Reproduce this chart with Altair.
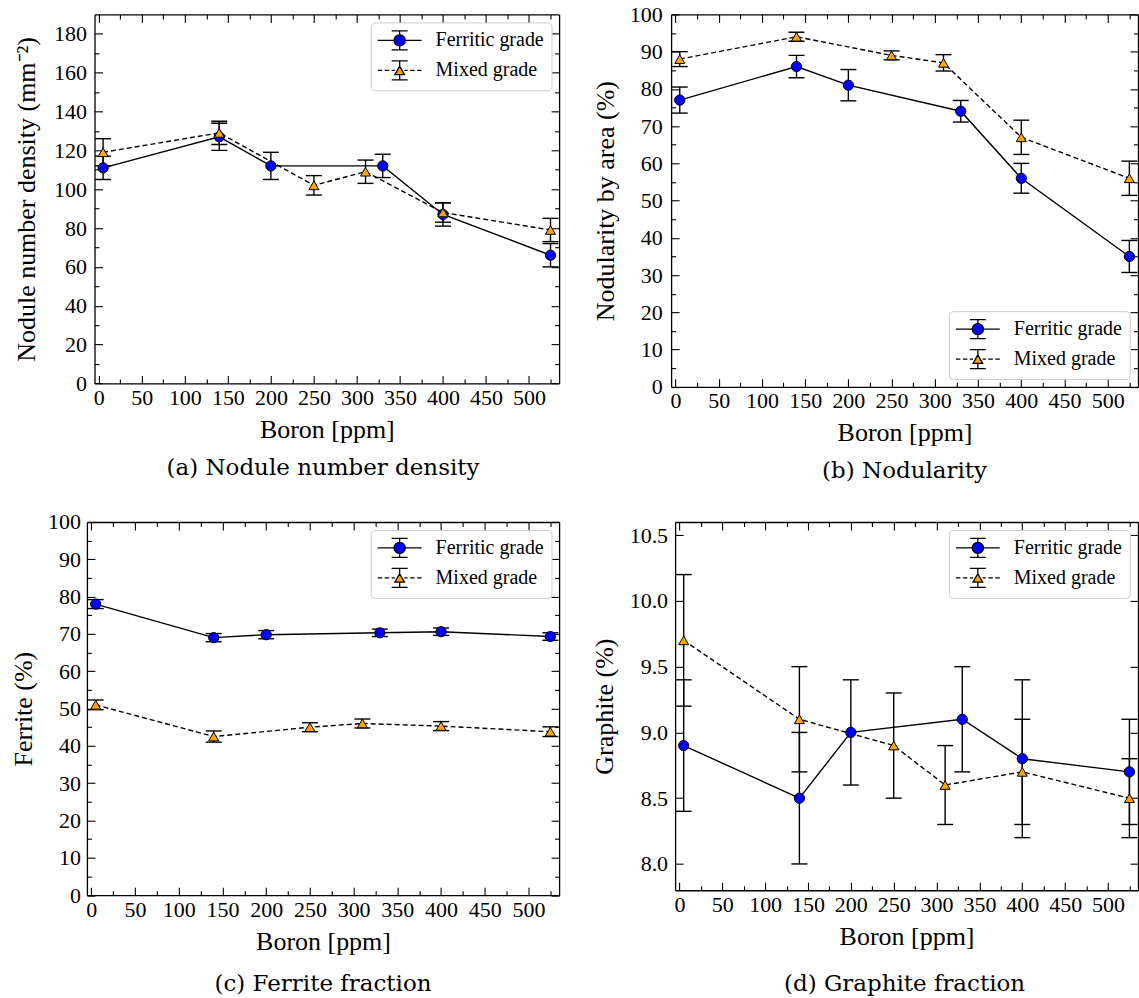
import altair as alt
import pandas as pd

# ---------------- data ----------------
series_names = ["Ferritic grade", "Mixed grade"]
boron_ferritic = [5, 140, 200, 330, 400, 525]
boron_mixed = [5, 140, 250, 310, 400, 525]

nodule_ferritic = [111, 127, 112, 112, 87, 66]
nodule_ferritic_err = [6, 7, 7, 6, 6, 6]
nodule_mixed = [119, 129, 102, 109, 88, 79]
nodule_mixed_err = [7, 6, 5, 6, 5, 6]

nodularity_ferritic = [77, 86, 81, 74, 56, 35]
nodularity_ferritic_err = [3.5, 3, 4.2, 2.9, 4, 4.3]
nodularity_mixed = [88, 94, 89, 87, 67, 56]
nodularity_mixed_err = [2, 1.2, 1.2, 2.2, 4.6, 4.6]

ferrite_ferritic = [78, 69, 69.8, 70.3, 70.6, 69.3]
ferrite_ferritic_err = [1.2, 1.1, 1.1, 1.0, 1.0, 1.0]
ferrite_mixed = [51, 42.5, 45, 46, 45.3, 43.8]
ferrite_mixed_err = [1.3, 1.5, 1.2, 1.2, 1.2, 1.3]

graphite_ferritic = [8.9, 8.5, 9.0, 9.1, 8.8, 8.7]
graphite_ferritic_err = [0.5, 0.5, 0.4, 0.4, 0.6, 0.4]
graphite_mixed = [9.7, 9.1, 8.9, 8.6, 8.7, 8.5]
graphite_mixed_err = [0.5, 0.4, 0.4, 0.3, 0.4, 0.3]

x_major = [0, 50, 100, 150, 200, 250, 300, 350, 400, 450, 500]
x_minor = [25, 75, 125, 175, 225, 275, 325, 375, 425, 475, 525]

# ---------------- style ----------------
SERIF = "Liberation Serif"
BLUE = "#0000ff"
ORANGE = "#ffa500"
MAJ = 8
MIN = 4.5

# legend glyphs (errorbar + line + marker), unit = 10 px
PATH_F = ("M-2.2,0H-0.56 M0.56,0H2.2 M0,-0.95V-0.56 M0,0.56V0.95 "
          "M-0.8,-0.95H0.8 M-0.8,0.95H0.8 "
          "M-0.56,0A0.56,0.56 0 1,0 0.56,0A0.56,0.56 0 1,0 -0.56,0Z")
PATH_M = ("M-2.2,0H-1.75 M-1.5,0H-1.05 M-0.8,0H-0.48 "
          "M0.48,0H0.8 M1.05,0H1.5 M1.75,0H2.2 "
          "M0,-0.95V-0.42 M0,0.42V0.95 M-0.8,-0.95H0.8 M-0.8,0.95H0.8 "
          "M0,-0.42L0.48,0.42L-0.48,0.42Z")


def tick_axis(orient, values, size, inset, labels=False, **kw):
    d = dict(orient=orient, offset=-(inset + size), tickSize=size, tickWidth=1.1,
             tickColor="black", domain=False, labels=labels, grid=False)
    if values:
        d["values"] = values
        d["ticks"] = True
    else:
        d["ticks"] = False
    if "title" not in kw:
        d["title"] = None
    d.update(kw)
    return alt.Axis(**d)


def frame_axis(orient, inset):
    return alt.Axis(orient=orient, offset=-inset, ticks=False, labels=False, domain=True,
                    domainColor="black", domainWidth=1.3, grid=False, title=None)


def panel(fv, fe, mv, me, ydom, ymaj, ymin, yfmt, ytitle, caption, W, H, xl,
          ytitle_x, ylabpad, legend_orient, cap_offset):
    df_f = pd.DataFrame({"boron": boron_ferritic, "val": fv,
                         "lo": [v - e for v, e in zip(fv, fe)],
                         "hi": [v + e for v, e in zip(fv, fe)]})
    df_m = pd.DataFrame({"boron": boron_mixed, "val": mv,
                         "lo": [v - e for v, e in zip(mv, me)],
                         "hi": [v + e for v, e in zip(mv, me)]})
    df_err = pd.concat([df_f, df_m], ignore_index=True)
    df_caps = pd.DataFrame({"boron": list(df_err["boron"]) * 2,
                            "cap": list(df_err["lo"]) + list(df_err["hi"])})
    df_leg = pd.DataFrame({"series": series_names})

    xs = alt.Scale(domain=[-5, 535], range=[xl, W], nice=False, zero=False)
    ys = alt.Scale(domain=ydom, nice=False, zero=False)

    def X(axis):
        return alt.X("boron:Q", scale=xs, axis=axis)

    def Y(field, axis):
        return alt.Y(field, scale=ys, axis=axis)

    line_f = alt.Chart(df_f).mark_line(color="black", strokeWidth=1.4).encode(
        x=X(tick_axis("top", x_major, MAJ, 0)),
        y=Y("val:Q", tick_axis("right", ymaj, MAJ, 0)),
    )
    line_m = alt.Chart(df_m).mark_line(color="black", strokeWidth=1.4, strokeDash=[5, 3]).encode(
        x=X(tick_axis("top", x_minor, MIN, 0)),
        y=Y("val:Q", tick_axis("right", ymin, MIN, 0)),
    )
    rules = alt.Chart(df_err).mark_rule(color="black", strokeWidth=1.4).encode(
        x=X(tick_axis("bottom", x_major, MAJ, 0, labels=True, labelPadding=4,
                      labelFont=SERIF, labelFontSize=22, labelColor="black",
                      labelFlush=False, labelOverlap=False, format="d",
                      title="Boron [ppm]", titleFont=SERIF, titleFontSize=26,
                      titleFontWeight="normal", titleColor="black",
                      titleY=54, titleBaseline="middle")),
        y=Y("lo:Q", tick_axis("left", ymaj, MAJ, xl, labels=True, labelPadding=ylabpad,
                              labelFont=SERIF, labelFontSize=22, labelColor="black",
                              labelFlush=False, labelOverlap=False, format=yfmt,
                              title=ytitle, titleFont=SERIF, titleFontSize=26,
                              titleFontWeight="normal", titleColor="black",
                              titleX=ytitle_x, titleBaseline="middle")),
        y2="hi:Q",
    )
    caps = alt.Chart(df_caps).mark_tick(orient="horizontal", color="black",
                                        thickness=1.4, size=16, opacity=1).encode(
        x=X(tick_axis("bottom", x_minor, MIN, 0)),
        y=Y("cap:Q", tick_axis("left", ymin, MIN, xl)),
    )
    pts_f = alt.Chart(df_f).mark_point(shape="circle", filled=True, color=BLUE, stroke="black",
                                       strokeWidth=1, size=105, opacity=1).encode(
        x=X(frame_axis("bottom", 0)),
        y=Y("val:Q", frame_axis("left", xl)),
    )
    pts_m = alt.Chart(df_m).mark_point(shape="triangle-up", filled=True, color=ORANGE,
                                       stroke="black", strokeWidth=1, size=100, opacity=1).encode(
        x=X(frame_axis("top", 0)),
        y=Y("val:Q", frame_axis("right", 0)),
    )
    leg = alt.Legend(title=None, orient=legend_orient, offset=8, padding=7,
                     fillColor="rgba(255,255,255,0.85)", strokeColor="#cccccc", cornerRadius=4,
                     labelFont=SERIF, labelFontSize=20, labelColor="black",
                     symbolSize=400, symbolStrokeWidth=1.3,
                     symbolOpacity=1, symbolOffset=11, labelOffset=25, rowPadding=4)
    legend_layer = alt.Chart(df_leg).mark_point(filled=True, opacity=0, size=400,
                                                strokeWidth=1.3).encode(
        fill=alt.Fill("series:N", scale=alt.Scale(domain=series_names, range=[BLUE, ORANGE]),
                      legend=leg),
        stroke=alt.Stroke("series:N", scale=alt.Scale(domain=series_names, range=["black", "black"]),
                          legend=leg),
        shape=alt.Shape("series:N", scale=alt.Scale(domain=series_names, range=[PATH_F, PATH_M]),
                        legend=leg),
    )
    return alt.layer(line_f, line_m, rules, caps, pts_f, pts_m, legend_layer).resolve_axis(
        x="independent", y="independent"
    ).properties(
        width=W, height=H,
        title=alt.TitleParams(caption, orient="bottom", anchor="middle", frame="group",
                              font="DejaVu Serif", fontSize=23, fontWeight="normal",
                              color="black", offset=cap_offset),
    )


pa = panel(nodule_ferritic, nodule_ferritic_err, nodule_mixed, nodule_mixed_err,
           [0, 190], list(range(0, 181, 20)), list(range(10, 181, 20)), "d",
           "Nodule number density (mm⁻²)", "(a) Nodule number density",
           472.6, 369.3, 7.6, -75.8, 8, "top-right", 15)
pb = panel(nodularity_ferritic, nodularity_ferritic_err, nodularity_mixed, nodularity_mixed_err,
           [0, 100], list(range(0, 101, 10)), list(range(5, 100, 10)), "d",
           "Nodularity by area (%)", "(b) Nodularity",
           467.3, 372.7, 0, -73.5, 9, "bottom-right", 14)
pc = panel(ferrite_ferritic, ferrite_ferritic_err, ferrite_mixed, ferrite_mixed_err,
           [0, 100], list(range(0, 101, 10)), list(range(5, 100, 10)), "d",
           "Ferrite (%)", "(c) Ferrite fraction",
           472.6, 373.5, 0, -71.3, 6.5, "top-right", 19)
pd_ = panel(graphite_ferritic, graphite_ferritic_err, graphite_mixed, graphite_mixed_err,
            [7.8, 10.6], [8.0, 8.5, 9.0, 9.5, 10.0, 10.5], [], ".1f",
            "Graphite (%)", "(d) Graphite fraction",
            467.3, 368.6, 4, -78.7, 7.5, "top-right", 24)

chart = alt.concat(pa, pb, pc, pd_, columns=2, spacing={"row": 135, "column": 111.7},
                   bounds="flush", align="none").resolve_scale(
    x="independent", y="independent", fill="independent", shape="independent",
    stroke="independent"
).configure_view(strokeWidth=0).properties(
    padding={"left": 10, "top": 3, "right": 0, "bottom": 0}, background="white"
)

chart.save("out.html", embed_options={"renderer": "svg", "actions": False})
